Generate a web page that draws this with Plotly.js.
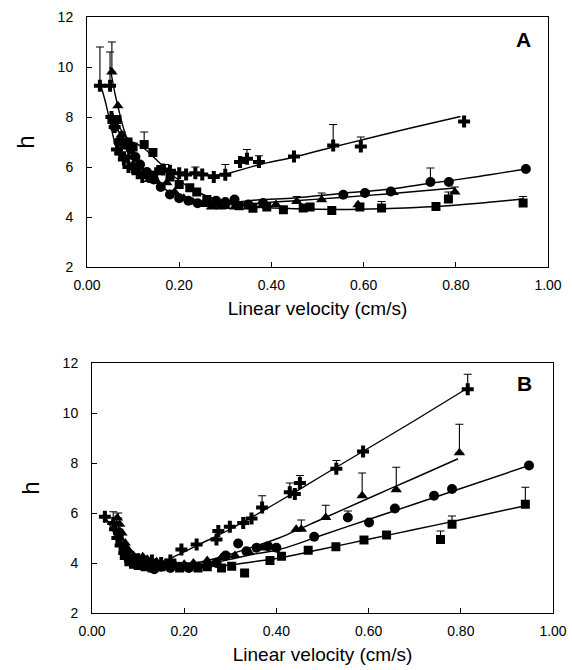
<!DOCTYPE html>
<html>
<head>
<meta charset="utf-8">
<script src="https://cdn.plot.ly/plotly-3.0.1.min.js"></script>
<style>html,body{margin:0;padding:0;background:#fff;}#chart{width:572px;height:670px;}</style>
</head>
<body>
<div id="chart"></div>
<script>
// ---------- Panel A data ----------
var crossA_x = [0.028, 0.05, 0.053, 0.06, 0.065, 0.072, 0.08, 0.09, 0.1, 0.11, 0.12, 0.135, 0.15, 0.165, 0.18, 0.2, 0.215, 0.235, 0.25, 0.275, 0.30, 0.332, 0.347, 0.373, 0.449, 0.534, 0.594, 0.818];
var crossA_y = [9.25, 9.25, 8.0, 7.6, 6.7, 6.55, 6.3, 6.0, 5.95, 5.75, 5.6, 5.6, 5.75, 5.9, 5.85, 5.75, 5.7, 5.75, 5.7, 5.6, 5.69, 6.2, 6.33, 6.2, 6.42, 6.86, 6.82, 7.82];
var crossA_errX = [0.028, 0.05, 0.17, 0.235, 0.30, 0.347, 0.373, 0.534, 0.594];
var crossA_errLo = [9.25, 9.25, 5.85, 5.75, 5.69, 6.33, 6.2, 6.86, 6.82];
var crossA_errHi = [10.8, 10.6, 6.1, 6.0, 6.1, 6.7, 6.45, 7.7, 7.2];
var crossA_fitX = [0.028, 0.04, 0.05, 0.06, 0.075, 0.1, 0.13, 0.17, 0.22, 0.27, 0.3, 0.375, 0.45, 0.534, 0.6, 0.7, 0.81];
var crossA_fitY = [9.4, 8.6, 7.8, 7.0, 6.4, 6.0, 5.85, 5.8, 5.72, 5.68, 5.72, 6.1, 6.4, 6.8, 7.1, 7.55, 8.02];

var triA_x = [0.054, 0.067, 0.075, 0.082, 0.09, 0.1, 0.11, 0.12, 0.135, 0.15, 0.173, 0.19, 0.21, 0.23, 0.25, 0.27, 0.29, 0.32, 0.35, 0.38, 0.41, 0.455, 0.509, 0.588, 0.664, 0.798];
var triA_y = [9.8, 8.45, 7.3, 6.8, 6.4, 6.1, 5.85, 5.7, 5.5, 5.45, 5.37, 5.0, 4.75, 4.6, 4.5, 4.4, 4.4, 4.4, 4.4, 4.45, 4.5, 4.62, 4.69, 4.49, 4.98, 5.0];
var triA_errX = [0.054, 0.455, 0.509, 0.798];
var triA_errLo = [9.8, 4.62, 4.69, 5.0];
var triA_errHi = [11.0, 4.82, 4.96, 5.2];
var triA_fitX = [0.05, 0.06, 0.07, 0.08, 0.1, 0.13, 0.17, 0.22, 0.28, 0.375, 0.45, 0.55, 0.65, 0.798];
var triA_fitY = [10.0, 9.0, 8.2, 7.5, 6.5, 5.7, 5.1, 4.7, 4.5, 4.56, 4.65, 4.78, 4.92, 5.16];

var cirA_x = [0.06, 0.068, 0.075, 0.085, 0.095, 0.105, 0.115, 0.13, 0.145, 0.16, 0.18, 0.2, 0.22, 0.24, 0.26, 0.28, 0.3, 0.32, 0.35, 0.382, 0.556, 0.603, 0.659, 0.745, 0.785, 0.952];
var cirA_y = [7.6, 7.0, 7.0, 6.9, 6.7, 6.4, 6.1, 5.8, 5.5, 5.2, 4.9, 4.75, 4.65, 4.55, 4.6, 4.65, 4.6, 4.7, 4.5, 4.56, 4.89, 4.96, 5.02, 5.40, 5.40, 5.92];
var cirA_errX = [0.075, 0.745];
var cirA_errLo = [7.0, 5.40];
var cirA_errHi = [7.4, 5.96];
var cirA_fitX = [0.06, 0.08, 0.1, 0.13, 0.17, 0.22, 0.28, 0.375, 0.45, 0.556, 0.659, 0.745, 0.85, 0.952];
var cirA_fitY = [7.8, 7.0, 6.5, 5.8, 5.1, 4.7, 4.55, 4.69, 4.76, 4.95, 5.12, 5.35, 5.62, 5.92];

var sqA_x = [0.054, 0.065, 0.08, 0.089, 0.1, 0.124, 0.143, 0.16, 0.18, 0.2, 0.223, 0.238, 0.26, 0.28, 0.3, 0.33, 0.36, 0.39, 0.426, 0.469, 0.484, 0.531, 0.592, 0.639, 0.757, 0.784, 0.946];
var sqA_y = [7.9, 7.9, 7.0, 7.0, 6.8, 6.9, 6.58, 5.9, 5.6, 5.3, 5.17, 5.0, 4.7, 4.55, 4.5, 4.45, 4.35, 4.4, 4.29, 4.36, 4.40, 4.26, 4.4, 4.36, 4.42, 4.72, 4.56];
var sqA_errX = [0.124, 0.639, 0.784, 0.946];
var sqA_errLo = [6.9, 4.36, 4.72, 4.56];
var sqA_errHi = [7.4, 4.62, 5.0, 4.82];
var sqA_fitX = [0.054, 0.07, 0.09, 0.12, 0.15, 0.19, 0.24, 0.3, 0.375, 0.45, 0.55, 0.639, 0.757, 0.85, 0.946];
var sqA_fitY = [8.2, 7.6, 7.1, 6.8, 6.3, 5.6, 5.0, 4.6, 4.4, 4.33, 4.3, 4.33, 4.42, 4.55, 4.72];

// ---------- Panel B data ----------
var crossB_x = [0.028, 0.046, 0.05, 0.055, 0.062, 0.07, 0.08, 0.09, 0.10, 0.115, 0.13, 0.15, 0.17, 0.194, 0.227, 0.27, 0.274, 0.299, 0.328, 0.346, 0.369, 0.429, 0.44, 0.451, 0.53, 0.588, 0.815];
var crossB_y = [5.85, 5.6, 5.35, 5.0, 4.7, 4.4, 4.2, 4.1, 4.15, 4.05, 4.1, 4.0, 4.1, 4.54, 4.74, 4.94, 5.28, 5.45, 5.6, 5.78, 6.22, 6.83, 6.76, 7.2, 7.77, 8.46, 10.95];
var crossB_errX = [0.046, 0.369, 0.429, 0.451, 0.53, 0.815];
var crossB_errLo = [5.6, 6.22, 6.83, 7.2, 7.77, 10.95];
var crossB_errHi = [6.05, 6.69, 7.2, 7.5, 8.1, 11.55];
var crossB_fitX = [0.028, 0.05, 0.07, 0.1, 0.15, 0.2, 0.25, 0.3, 0.4, 0.5, 0.6, 0.7, 0.815];
var crossB_fitY = [5.9, 5.1, 4.4, 4.05, 4.05, 4.45, 4.9, 5.35, 6.4, 7.5, 8.6, 9.7, 11.0];

var triB_x = [0.055, 0.06, 0.065, 0.072, 0.08, 0.09, 0.1, 0.11, 0.12, 0.14, 0.16, 0.18, 0.2, 0.22, 0.25, 0.28, 0.31, 0.34, 0.37, 0.443, 0.454, 0.507, 0.586, 0.66, 0.797];
var triB_y = [5.8, 5.55, 5.2, 4.8, 4.5, 4.3, 4.2, 4.25, 4.15, 4.05, 4.0, 3.95, 3.95, 4.0, 4.1, 4.2, 4.3, 4.45, 4.6, 5.35, 5.35, 5.82, 6.69, 6.93, 8.41];
var triB_errX = [0.057, 0.454, 0.507, 0.586, 0.66, 0.797];
var triB_errLo = [5.8, 5.35, 5.82, 6.69, 6.93, 8.41];
var triB_errHi = [6.0, 5.72, 6.31, 7.6, 7.83, 9.55];
var triB_fitX = [0.05, 0.07, 0.1, 0.14, 0.2, 0.25, 0.3, 0.35, 0.407, 0.5, 0.6, 0.7, 0.794];
var triB_fitY = [5.9, 4.9, 4.25, 4.0, 3.95, 4.1, 4.35, 4.65, 5.01, 5.77, 6.59, 7.4, 8.17];

var cirB_x = [0.06, 0.07, 0.08, 0.09, 0.1, 0.11, 0.12, 0.135, 0.15, 0.17, 0.19, 0.21, 0.23, 0.25, 0.27, 0.29, 0.317, 0.335, 0.357, 0.382, 0.40, 0.482, 0.555, 0.601, 0.657, 0.742, 0.781, 0.948];
var cirB_y = [5.2, 4.6, 4.1, 4.0, 3.95, 4.0, 3.9, 3.75, 3.85, 3.8, 3.85, 3.8, 3.85, 3.9, 4.0, 4.3, 4.78, 4.47, 4.61, 4.67, 4.61, 5.05, 5.82, 5.62, 6.18, 6.69, 6.96, 7.9];
var cirB_errX = [0.555];
var cirB_errLo = [5.82];
var cirB_errHi = [6.08];
var cirB_fitX = [0.06, 0.08, 0.1, 0.14, 0.2, 0.25, 0.3, 0.35, 0.407, 0.5, 0.6, 0.7, 0.8, 0.948];
var cirB_fitY = [5.3, 4.4, 4.05, 3.85, 3.85, 3.95, 4.15, 4.35, 4.54, 5.12, 5.74, 6.36, 6.98, 7.9];

var sqB_x = [0.07, 0.08, 0.09, 0.1, 0.115, 0.13, 0.15, 0.17, 0.19, 0.21, 0.23, 0.25, 0.281, 0.303, 0.331, 0.386, 0.411, 0.469, 0.529, 0.59, 0.639, 0.756, 0.781, 0.94];
var sqB_y = [4.3, 4.05, 3.95, 3.9, 3.85, 3.8, 3.85, 3.9, 3.8, 3.85, 3.8, 3.85, 3.8, 3.87, 3.6, 4.1, 4.27, 4.51, 4.65, 4.92, 5.12, 4.94, 5.55, 6.35];
var sqB_errX = [0.756, 0.781, 0.94];
var sqB_errLo = [4.94, 5.55, 6.35];
var sqB_errHi = [5.28, 5.88, 7.03];
var sqB_fitX = [0.07, 0.1, 0.15, 0.2, 0.25, 0.3, 0.35, 0.407, 0.5, 0.6, 0.7, 0.8, 0.94];
var sqB_fitY = [4.3, 3.95, 3.85, 3.82, 3.85, 3.92, 4.05, 4.2, 4.56, 4.95, 5.34, 5.73, 6.29];

var xTickVals = [0, 0.2, 0.4, 0.6, 0.8, 1.0];
var xTickText = ['0.00', '0.20', '0.40', '0.60', '0.80', '1.00'];
var yTickVals = [2, 4, 6, 8, 10, 12];
var panelLabels = ['A', 'B'];
var xTitle = 'Linear velocity (cm/s)';
var yTitle = 'h';

// ---------- build traces ----------
var traces = [];
function addSeries(xa, ya, fx, fy, ex, elo, ehi, symbol, size, axX, axY) {
  traces.push({x: fx, y: fy, xaxis: axX, yaxis: axY, mode: 'lines', type: 'scatter',
    line: {color: '#000', width: 1.4, shape: 'spline', smoothing: 0.8}, hoverinfo: 'skip', showlegend: false});
  var up = ehi.map(function (v, i) { return v - elo[i]; });
  traces.push({x: ex, y: elo, xaxis: axX, yaxis: axY, mode: 'markers', type: 'scatter',
    marker: {size: 1, color: 'rgba(0,0,0,0)'},
    error_y: {type: 'data', symmetric: false, array: up, arrayminus: up.map(function () { return 0; }),
      color: '#000', thickness: 1.1, width: 4}, showlegend: false, hoverinfo: 'skip'});
  traces.push({x: xa, y: ya, xaxis: axX, yaxis: axY, mode: 'markers', type: 'scatter',
    marker: {symbol: symbol, size: size, color: '#000', line: {width: 0}}, showlegend: false});
}
addSeries(crossA_x, crossA_y, crossA_fitX, crossA_fitY, crossA_errX, crossA_errLo, crossA_errHi, 'cross', 10, 'x', 'y');
addSeries(triA_x, triA_y, triA_fitX, triA_fitY, triA_errX, triA_errLo, triA_errHi, 'triangle-up', 10, 'x', 'y');
addSeries(cirA_x, cirA_y, cirA_fitX, cirA_fitY, cirA_errX, cirA_errLo, cirA_errHi, 'circle', 10, 'x', 'y');
addSeries(sqA_x, sqA_y, sqA_fitX, sqA_fitY, sqA_errX, sqA_errLo, sqA_errHi, 'square', 9, 'x', 'y');

addSeries(crossB_x, crossB_y, crossB_fitX, crossB_fitY, crossB_errX, crossB_errLo, crossB_errHi, 'cross', 10, 'x2', 'y2');
addSeries(triB_x, triB_y, triB_fitX, triB_fitY, triB_errX, triB_errLo, triB_errHi, 'triangle-up', 10, 'x2', 'y2');
addSeries(cirB_x, cirB_y, cirB_fitX, cirB_fitY, cirB_errX, cirB_errLo, cirB_errHi, 'circle', 10, 'x2', 'y2');
addSeries(sqB_x, sqB_y, sqB_fitX, sqB_fitY, sqB_errX, sqB_errLo, sqB_errHi, 'square', 9, 'x2', 'y2');

var fam = 'Liberation Sans, Arial, sans-serif';
var tickFont = {family: fam, size: 14, color: '#000'};
function xAxis(domain, anchor) {
  return {domain: domain, anchor: anchor, range: [0, 1.0], tickvals: xTickVals, ticktext: xTickText,
    ticks: 'inside', ticklen: 5, tickcolor: '#000', showline: true, mirror: true, linecolor: '#000', linewidth: 1,
    showgrid: false, zeroline: false, tickfont: tickFont, ticklabelstandoff: 5,
    title: {text: xTitle, font: {family: fam, size: 19, color: '#000'}, standoff: 9}};
}
function yAxis(domain, anchor) {
  return {domain: domain, anchor: anchor, range: [2, 12], tickvals: yTickVals,
    ticks: 'inside', ticklen: 5, tickcolor: '#000', showline: true, mirror: true, linecolor: '#000', linewidth: 1,
    showgrid: false, zeroline: false, tickfont: tickFont, ticklabelstandoff: 10,
    title: {text: yTitle, font: {family: fam, size: 24, color: '#000'}, standoff: 16}};
}

var layout = {
  width: 572, height: 670,
  margin: {l: 0, r: 0, t: 0, b: 0},
  paper_bgcolor: '#fff', plot_bgcolor: '#fff',
  showlegend: false,
  xaxis: xAxis([87 / 572, 548 / 572], 'y'),
  yaxis: yAxis([1 - 267 / 670, 1 - 17 / 670], 'x'),
  xaxis2: xAxis([92 / 572, 553 / 572], 'y2'),
  yaxis2: yAxis([1 - 613 / 670, 1 - 363 / 670], 'x2'),
  annotations: [
    {xref: 'x domain', yref: 'y domain', x: 0.946, y: 0.908, xanchor: 'center', yanchor: 'middle',
      text: '<b>' + panelLabels[0] + '</b>', showarrow: false, font: {family: fam, size: 21, color: '#000'}},
    {xref: 'x2 domain', yref: 'y2 domain', x: 0.939, y: 0.92, xanchor: 'center', yanchor: 'middle',
      text: '<b>' + panelLabels[1] + '</b>', showarrow: false, font: {family: fam, size: 21, color: '#000'}}
  ]
};

Plotly.newPlot('chart', traces, layout, {staticPlot: true, displayModeBar: false});
</script>
</body>
</html>
